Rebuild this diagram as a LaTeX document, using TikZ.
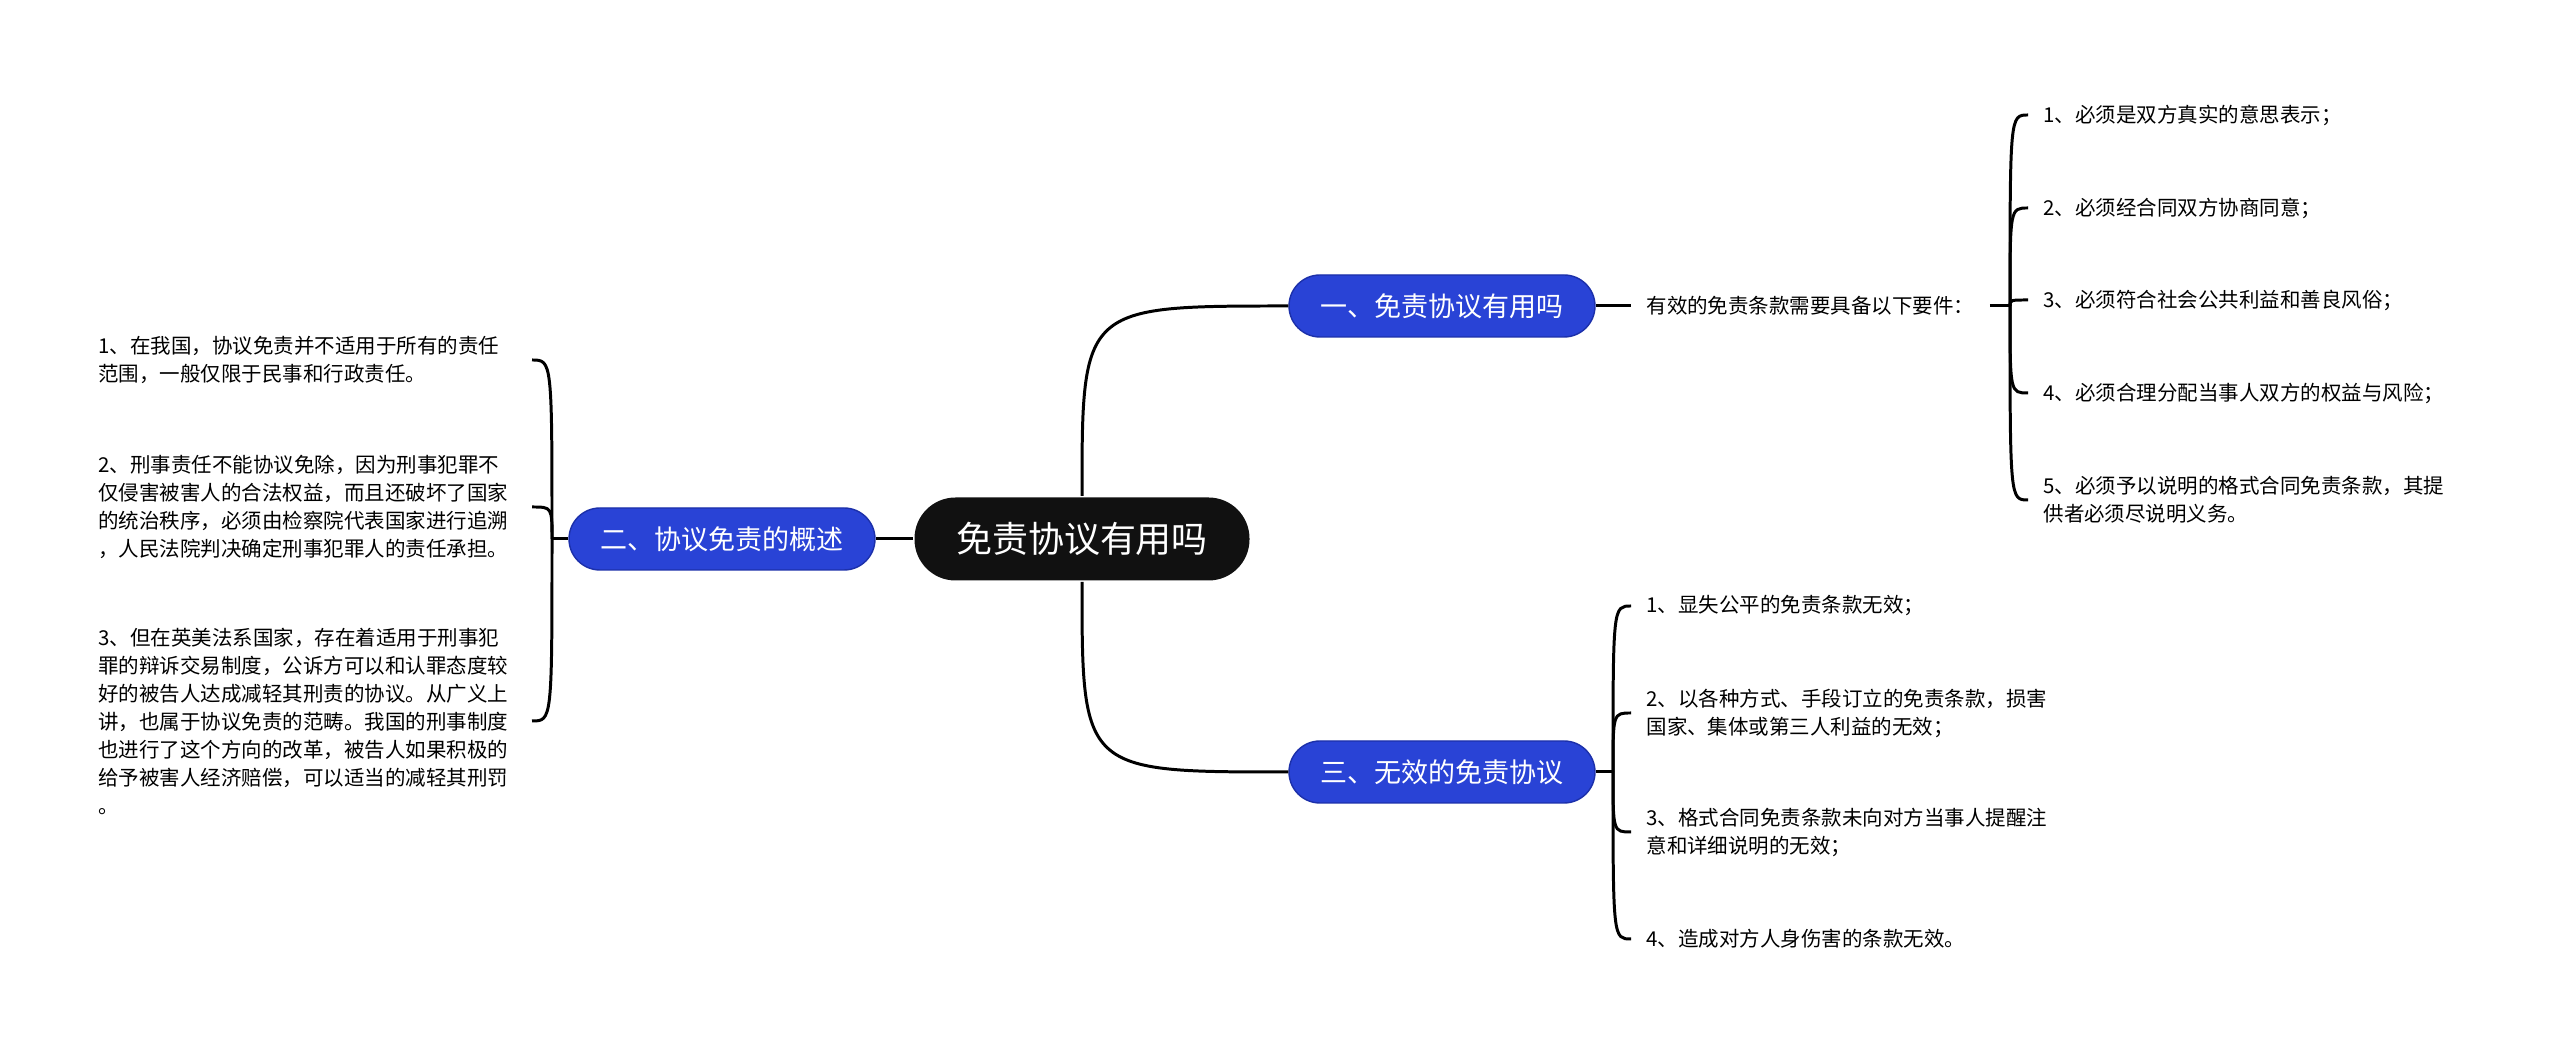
\documentclass[tikz,border=0pt]{standalone}
\usepackage{fontspec}
\newfontfamily\cnfont{Noto Sans CJK SC}
\usepackage{tikz}
\usetikzlibrary{calc, positioning}

\definecolor{topicblue}{RGB}{41,67,214}
\definecolor{topicedge}{RGB}{28,48,170}
\definecolor{rootblack}{RGB}{17,17,17}

\begin{document}
\begin{tikzpicture}[line width=.85pt,
		root/.style={fill=rootblack, text=white, rounded corners=.41cm, minimum width=3.35cm, minimum height=.83cm, inner sep=0pt, font=\cnfont\fontsize{10.24}{12}\selectfont},
		topic/.style={fill=topicblue, draw=topicedge, line width=.4pt, text=white, rounded corners=.31cm, minimum width=3.06cm, minimum height=.62cm, inner sep=0pt, font=\cnfont\fontsize{7.68}{9}\selectfont},
		leaf/.style={align=left, inner xsep=.14cm, inner ysep=0pt, font=\cnfont\fontsize{5.83}{7.97}\selectfont},
		branch/.style={draw=black, line width=.85pt}]
		\fill[white] (0,0) rectangle (25.6,-10.52);
		\useasboundingbox (0,0) rectangle (25.6,-10.52);

		% centre and main topics
		\node[root] (c) at (10.82,-5.39) {免责协议有用吗};
		\node[topic] (b1) at (14.42,-3.06) {一、免责协议有用吗};
		\node[topic] (b2) at (7.22,-5.39) {二、协议免责的概述};
		\node[topic] (b3) at (14.42,-7.72) {三、无效的免责协议};

		\draw[branch] (c.north) .. controls (c.north |- b1.west) .. (b1.west);
		\draw[branch] (c.south) .. controls (c.south |- b3.west) .. (b3.west);
		\draw[branch] (c) -- (b2);

		% branch one
		\node[leaf, anchor=west] (req) at (16.31,-3.06) {有效的免责条款需要具备以下要件：};
		\node[leaf, anchor=west] (r1) at (20.28,-1.15) {1、必须是双方真实的意思表示；};
		\node[leaf, anchor=west] (r2) at (20.28,-2.08) {2、必须经合同双方协商同意；};
		\node[leaf, anchor=west] (r3) at (20.28,-3.00) {3、必须符合社会公共利益和善良风俗；};
		\node[leaf, anchor=west] (r4) at (20.28,-3.93) {4、必须合理分配当事人双方的权益与风险；};
		\node[leaf, anchor=west] (r5) at (20.28,-5.00) {5、必须予以说明的格式合同免责条款，其提\\供者必须尽说明义务。};
		\coordinate (rj) at (20.10,-3.06);
		\draw[branch] (b1) -- (req);
		\draw[branch] (req) -- (rj);
		\foreach \i in {1,...,5}
			\draw[branch] (rj) .. controls (rj |- r\i.west) .. (r\i.west);

		% branch two
		\node[leaf, anchor=east, text width=4.18cm] (l1) at (5.32,-3.60) {1、在我国，协议免责并不适用于所有的责任\\范围，一般仅限于民事和行政责任。};
		\node[leaf, anchor=east, text width=4.18cm] (l2) at (5.32,-5.07) {2、刑事责任不能协议免除，因为刑事犯罪不\\仅侵害被害人的合法权益，而且还破坏了国家\\的统治秩序，必须由检察院代表国家进行追溯\\，人民法院判决确定刑事犯罪人的责任承担。};
		\node[leaf, anchor=east, text width=4.18cm] (l3) at (5.32,-7.21) {3、但在英美法系国家，存在着适用于刑事犯\\罪的辩诉交易制度，公诉方可以和认罪态度较\\好的被告人达成减轻其刑责的协议。从广义上\\讲，也属于协议免责的范畴。我国的刑事制度\\也进行了这个方向的改革，被告人如果积极的\\给予被害人经济赔偿，可以适当的减轻其刑罚\\。};
		\coordinate (lj) at (5.52,-5.39);
		\draw[branch] (b2) -- (lj);
		\foreach \i in {1,2,3}
			\draw[branch] (lj) .. controls (lj |- l\i.east) .. (l\i.east);

		% branch three
		\node[leaf, anchor=west] (w1) at (16.31,-6.06) {1、显失公平的免责条款无效；};
		\node[leaf, anchor=west] (w2) at (16.31,-7.13) {2、以各种方式、手段订立的免责条款，损害\\国家、集体或第三人利益的无效；};
		\node[leaf, anchor=west] (w3) at (16.31,-8.32) {3、格式合同免责条款未向对方当事人提醒注\\意和详细说明的无效；};
		\node[leaf, anchor=west] (w4) at (16.31,-9.39) {4、造成对方人身伤害的条款无效。};
		\coordinate (bj) at (16.13,-7.72);
		\draw[branch] (b3) -- (bj);
		\foreach \i in {1,...,4}
			\draw[branch] (bj) .. controls (bj |- w\i.west) .. (w\i.west);
	\end{tikzpicture}
\end{document}
